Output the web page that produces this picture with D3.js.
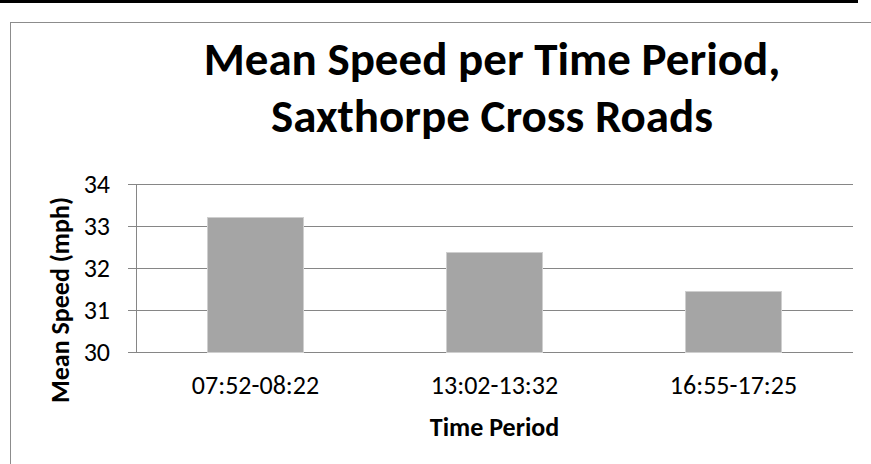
<!DOCTYPE html>
<html>
<head>
<meta charset="UTF-8">
<title>Mean Speed per Time Period</title>
<script src="https://cdn.jsdelivr.net/npm/d3@7"></script>
<style>
  body { margin: 0; background: #fff; }
  svg text { font-family: Carlito, Calibri, Lato, sans-serif; fill: #000; }
  .grid line { stroke: #868686; stroke-width: 1; shape-rendering: crispEdges; }
  .axis path, .axis line { stroke: #868686; shape-rendering: crispEdges; }
  .bar { fill: #a5a5a5; stroke: #cfcfcf; stroke-width: 1; shape-rendering: crispEdges; }
</style>
</head>
<body>
<div id="chart"></div>
<script>
// données
var periods = ["07:52-08:22", "13:02-13:32", "16:55-17:25"];
var meanSpeed = [33.21, 32.36, 31.43];
var yTicks = [30, 31, 32, 33, 34];
var titleLines = ["Mean Speed per Time Period,", "Saxthorpe Cross Roads"];

var width = 871, height = 464;
var plot = {left: 136, right: 853, top: 184, bottom: 352};

var svg = d3.select("#chart").append("svg")
    .attr("width", width)
    .attr("height", height);

// barre noire en haut + cadre du graphique
svg.append("rect")
    .attr("x", 0).attr("y", 0)
    .attr("width", 858).attr("height", 3)
    .attr("fill", "#000");
svg.append("rect")
    .attr("x", 10.5).attr("y", 22.5)
    .attr("width", 950).attr("height", 600)
    .attr("fill", "none")
    .attr("stroke", "#8c8c8c");

var x = d3.scaleBand()
    .domain(periods)
    .range([plot.left, plot.right])
    .paddingInner(0.6)
    .paddingOuter(0.3);

var y = d3.scaleLinear()
    .domain([30, 34])
    .range([plot.bottom, plot.top]);

// lignes de grille
svg.append("g").attr("class", "grid")
  .selectAll("line")
  .data(yTicks)
  .enter().append("line")
    .attr("x1", plot.left)
    .attr("x2", plot.right)
    .attr("y1", function(d) { return y(d); })
    .attr("y2", function(d) { return y(d); });

// barres
svg.append("g").selectAll(".bar")
  .data(meanSpeed)
  .enter().append("rect")
    .attr("class", "bar")
    .attr("x", function(d, i) { return x(periods[i]); })
    .attr("y", function(d) { return y(d); })
    .attr("width", x.bandwidth())
    .attr("height", function(d) { return y(30) - y(d); });

// axe y
var yAxis = svg.append("g")
    .attr("class", "axis")
    .attr("transform", "translate(" + plot.left + ",0)")
    .call(d3.axisLeft(y).tickValues(yTicks).tickFormat(d3.format("d"))
      .tickSize(8).tickSizeOuter(0).tickPadding(18));
yAxis.selectAll("text")
    .style("font-size", "26px");

// axe x (labels only)
svg.append("g").selectAll(".xlab")
  .data(periods)
  .enter().append("text")
    .attr("class", "xlab")
    .attr("x", function(d) { return x(d) + x.bandwidth() / 2; })
    .attr("y", 394)
    .attr("text-anchor", "middle")
    .style("font-size", "26px")
    .text(function(d) { return d; });

// titres des axes
svg.append("text")
    .attr("x", (plot.left + plot.right) / 2)
    .attr("y", 436)
    .attr("text-anchor", "middle")
    .style("font-size", "26px")
    .style("font-weight", "bold")
    .text("Time Period");

svg.append("text")
    .attr("transform", "translate(69,300) rotate(-90)")
    .attr("text-anchor", "middle")
    .style("font-size", "26px")
    .style("font-weight", "bold")
    .text("Mean Speed (mph)");

// titre
svg.append("g").selectAll(".title")
  .data(titleLines)
  .enter().append("text")
    .attr("class", "title")
    .attr("x", 492)
    .attr("y", function(d, i) { return 75 + i * 57; })
    .attr("text-anchor", "middle")
    .style("font-size", "47px")
    .style("font-weight", "bold")
    .text(function(d) { return d; });
</script>
</body>
</html>
